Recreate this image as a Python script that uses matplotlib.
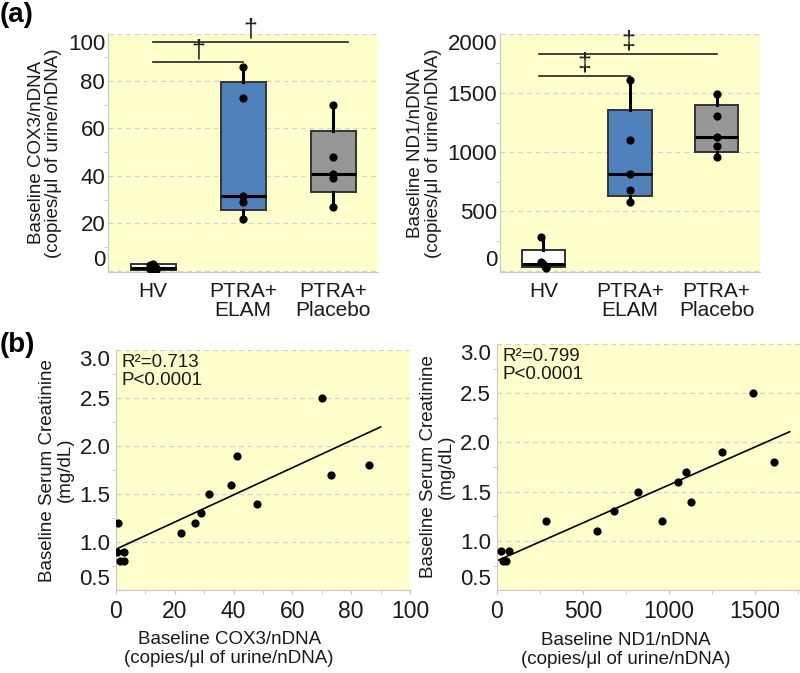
import numpy as np
import matplotlib
matplotlib.use("Agg")
import matplotlib.pyplot as plt
from matplotlib.ticker import MultipleLocator

plt.rcParams['font.family'] = ['Liberation Sans', 'DejaVu Sans']

# per-patient values, grouped
groups = ['HV', 'PTRA+\nELAM', 'PTRA+\nPlacebo']
cox3 = [[0.6, 0.3, 2.6, 1.2, 2.7],
        [86, 73, 31.5, 29, 22],
        [70, 48, 41, 39, 27]]
nd1 = [[285, 25, 70, 35, 55],
       [1610, 1100, 820, 680, 580],
       [1490, 1130, 1305, 1050, 960]]
creat = [[1.2, 0.9, 0.9, 0.8, 0.8],
         [1.8, 1.7, 1.5, 1.3, 1.1],
         [2.5, 1.4, 1.9, 1.6, 1.2]]
hv_jitter = [-0.03, 0.03, -0.03, 0.03, 0.0]

box_colors = ['white', '#4f81bd', '#969696']
bg = '#ffffcc'
spine_col = '#c8c8c8'
txt = '#1a1a1a'


def box_stats(vals):
    v = np.sort(np.asarray(vals, float))
    q1, med, q3 = np.percentile(v, [25, 50, 75], method='weibull')
    return dict(med=med, q1=q1, q3=q3, whislo=v.min(), whishi=v.max(), fliers=[])


def style_axes(ax):
    ax.set_facecolor(bg)
    for s in ['top', 'right']:
        ax.spines[s].set_visible(False)
    for s in ['left', 'bottom']:
        ax.spines[s].set_color(spine_col)
    ax.tick_params(colors=spine_col, labelcolor=txt, length=3, width=1)
    ax.tick_params(which='minor', colors=spine_col, length=3)
    ax.yaxis.grid(True, linestyle=(0, (4, 3)), color='#d4d4d4', lw=0.9)
    ax.set_axisbelow(True)


def end_labels(ax):
    labs = ax.get_yticklabels()
    labs[0].set_verticalalignment('bottom')
    labs[-1].set_verticalalignment('top')


def box_panel(ax, data, ylim, yticks, ylabel, sig, mark):
    style_axes(ax)
    stats = [box_stats(d) for d in data]
    bp = ax.bxp(stats, positions=[0, 1, 2], widths=0.5, showcaps=False,
                patch_artist=True,
                boxprops=dict(edgecolor='#333333', lw=1.4),
                whiskerprops=dict(color='black', lw=2.2),
                medianprops=dict(color='black', lw=2.2))
    for patch, c in zip(bp['boxes'], box_colors):
        patch.set_facecolor(c)
    for i, d in enumerate(data):
        xs = [i + (hv_jitter[j] if i == 0 else 0) for j in range(len(d))]
        ax.scatter(xs, d, s=24, color='black', zorder=5)
    ax.set_xlim(-0.5, 2.5)
    ax.set_ylim(*ylim)
    ax.set_yticks(yticks)
    ax.yaxis.set_minor_locator(MultipleLocator(yticks[1] / 2))
    ax.tick_params(axis='y', which='major', labelsize=16, length=0, pad=2)
    ax.set_xticks([0, 1, 2])
    ax.set_xticklabels(groups, fontsize=15, linespacing=1.0)
    ax.tick_params(axis='x', length=0, pad=7)
    ax.set_ylabel(ylabel, fontsize=13.5, linespacing=1.05, color=txt)
    for x0, x1, y in sig:
        ax.plot([x0, x1], [y, y], color='#222222', lw=1.2)
        ax.text((x0 + x1) / 2, y, mark, ha='center', va='bottom',
                fontsize=18, color='#222222')
    end_labels(ax)


def scatter_panel(ax, xdata, xlim, xticks, xmax_fit, xlabel, xlab_x, stat_text):
    style_axes(ax)
    x = np.concatenate(xdata)
    y = np.concatenate(creat)
    slope, icpt = np.polyfit(x, y, 1)
    ax.scatter(x, y, s=24, color='black', zorder=5)
    xf = np.array([0, xmax_fit])
    ax.plot(xf, icpt + slope * xf, color='black', lw=1.2)
    ax.set_xlim(*xlim)
    ax.set_ylim(0.5, 3.0)
    ax.set_xticks(xticks)
    ax.xaxis.set_minor_locator(MultipleLocator(xticks[1] / 2))
    ax.set_yticks([0.5, 1.0, 1.5, 2.0, 2.5, 3.0])
    ax.yaxis.set_minor_locator(MultipleLocator(0.25))
    ax.tick_params(axis='x', labelsize=16.5, pad=4)
    ax.tick_params(axis='y', which='major', labelsize=16, length=0, pad=4)
    ax.set_ylabel('Baseline Serum Creatinine\n(mg/dL)', fontsize=13.5,
                  linespacing=1.05, color=txt)
    ax.set_xlabel(xlabel, fontsize=13.5, linespacing=1.15, color=txt)
    ax.xaxis.set_label_coords(xlab_x, -0.17)
    ax.text(0.02, 0.985, stat_text, transform=ax.transAxes, ha='left', va='top',
            fontsize=13.5, linespacing=1.1, color=txt)
    end_labels(ax)


fig = plt.figure(figsize=(8.0, 6.73), dpi=100)

ax1 = fig.add_axes([0.135, 0.596, 0.3375, 0.354])
box_panel(ax1, cox3, (-0.5, 100), [0, 20, 40, 60, 80, 100],
          'Baseline COX3/nDNA\n(copies/\u03bcl of urine/nDNA)',
          [(0, 1, 88), (0, 2.17, 96.5)], '\u2020')

ax2 = fig.add_axes([0.625, 0.596, 0.325, 0.354])
box_panel(ax2, nd1, (-10, 2000), [0, 500, 1000, 1500, 2000],
          'Baseline ND1/nDNA\n(copies/\u03bcl of urine/nDNA)',
          [(-0.05, 1, 1645), (-0.05, 2, 1830)], '\u2021')

ax3 = fig.add_axes([0.145, 0.123, 0.3675, 0.357])
scatter_panel(ax3, cox3, (0, 100), [0, 20, 40, 60, 80, 100], 90,
              'Baseline COX3/nDNA\n(copies/\u03bcl of urine/nDNA)', 0.385,
              'R\u00b2=0.713\nP<0.0001')

ax4 = fig.add_axes([0.621, 0.123, 0.379, 0.366])
scatter_panel(ax4, nd1, (0, 1760), [0, 500, 1000, 1500], 1700,
              'Baseline ND1/nDNA\n(copies/\u03bcl of urine/nDNA)', 0.426,
              'R\u00b2=0.799\nP<0.0001')

fig.text(0.0, 0.978, '(a)', fontsize=20, fontweight='bold', va='center')
fig.text(0.0, 0.487, '(b)', fontsize=20, fontweight='bold', va='center')

fig.savefig('out.png', dpi=100)
